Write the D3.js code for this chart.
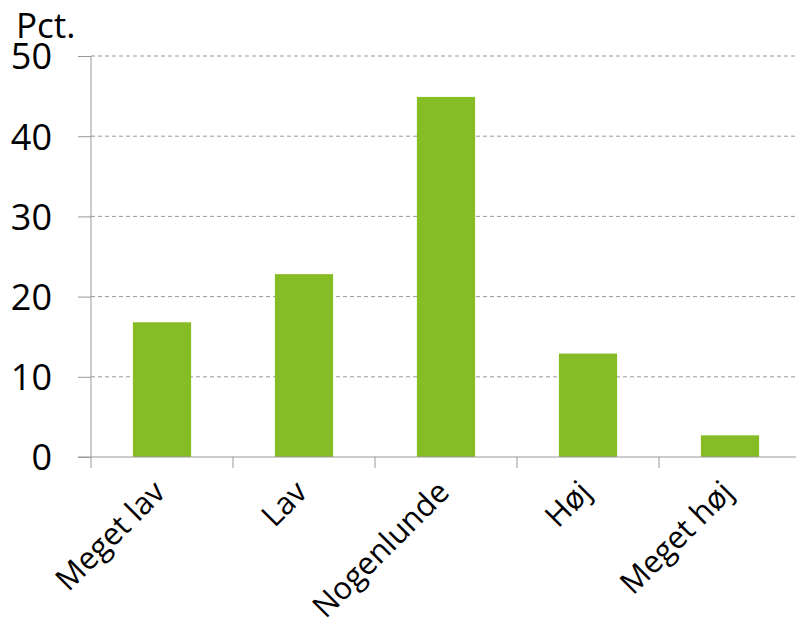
<!DOCTYPE html>
<html>
<head>
<meta charset="utf-8">
<script src="https://cdn.jsdelivr.net/npm/d3@7"></script>
<style>
  body { margin: 0; background: #fff; }
  text { font-family: "Open Sans", sans-serif; fill: #000; }
</style>
</head>
<body>
<svg id="chart" width="796" height="632"></svg>
<script>
// data
var categories = ["Meget lav", "Lav", "Nogenlunde", "Høj", "Meget høj"];
var values = [16.8, 22.8, 44.9, 12.9, 2.7];
var yTicks = [0, 10, 20, 30, 40, 50];

var margin = { top: 56, right: -5, bottom: 175, left: 91 },
    width = 796 - margin.left - margin.right,
    height = 632 - margin.top - margin.bottom;

var svg = d3.select("#chart");
var g = svg.append("g")
    .attr("transform", "translate(" + margin.left + "," + margin.top + ")");

var x = d3.scaleBand()
    .domain(categories)
    .range([0, 142 * categories.length])
    .paddingInner(0.59)
    .paddingOuter(0.295);

var y = d3.scaleLinear()
    .domain([0, 50])
    .range([height, 0]);

// gridlines
g.selectAll(".grid")
    .data(yTicks.filter(function (d) { return d > 0; }))
    .enter().append("line")
    .attr("x1", 0)
    .attr("x2", width)
    .attr("y1", function (d) { return y(d); })
    .attr("y2", function (d) { return y(d); })
    .attr("stroke", "#999")
    .attr("stroke-width", 1)
    .attr("stroke-dasharray", "4,3");

// bars
g.selectAll(".bar")
    .data(values)
    .enter().append("rect")
    .attr("x", function (d, i) { return x(categories[i]); })
    .attr("width", x.bandwidth())
    .attr("y", function (d) { return y(d); })
    .attr("height", function (d) { return height - y(d); })
    .attr("fill", "#86bc25");

// y axis
var yAxis = g.append("g")
    .call(d3.axisLeft(y).tickValues(yTicks).tickSize(13).tickPadding(26));
yAxis.select(".domain").attr("stroke", "#999").attr("d", "M0," + height + "V0");
yAxis.selectAll(".tick line").attr("stroke", "#999");
yAxis.selectAll(".tick text")
    .style("font-size", "36px")
    .attr("dy", "0.36em");

// x axis
var step = 142;
var xAxis = g.append("g")
    .attr("transform", "translate(0," + height + ")");
xAxis.append("line")
    .attr("x1", -13).attr("x2", width)
    .attr("stroke", "#999");
xAxis.selectAll(".xtick")
    .data(d3.range(categories.length + 1))
    .enter().append("line")
    .attr("x1", function (d) { return d * step; })
    .attr("x2", function (d) { return d * step; })
    .attr("y1", 0).attr("y2", 11)
    .attr("stroke", "#999");
xAxis.selectAll(".xlabel")
    .data(categories)
    .enter().append("text")
    .attr("text-anchor", "end")
    .attr("transform", function (d) {
        var cx = x(d) + x.bandwidth() / 2 + 5;
        return "translate(" + cx + ",37) rotate(-45)";
    })
    .style("font-size", "31px")
    .text(function (d) { return d; });

// unit label
svg.append("text")
    .attr("x", 16)
    .attr("y", 38)
    .style("font-size", "35px")
    .text("Pct.");
</script>
</body>
</html>
